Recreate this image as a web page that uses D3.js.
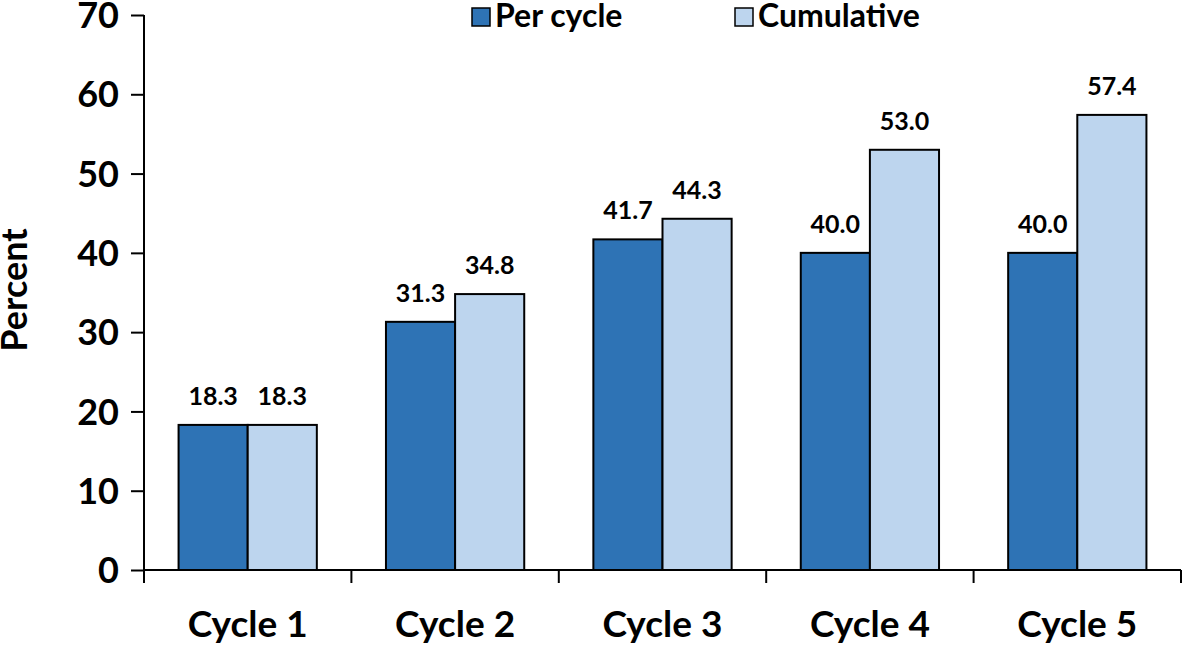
<!DOCTYPE html>
<html><head><meta charset="utf-8">
<script src="https://cdn.jsdelivr.net/npm/d3@7"></script>
<style>body{margin:0;background:#fff}svg{display:block}text{font-family:Lato,"Open Sans",sans-serif;font-weight:bold;fill:#000}</style>
</head><body><svg id="c" width="1182" height="645"></svg>
<script>
const categories = ["Cycle 1","Cycle 2","Cycle 3","Cycle 4","Cycle 5"];
const seriesNames = ["Per cycle","Cumulative"];
const perCycle = [18.3, 31.3, 41.7, 40.0, 40.0];
const cumulative = [18.3, 34.8, 44.3, 53.0, 57.4];
const yTicks = [0,10,20,30,40,50,60,70];
const colors = ["#2e73b5","#bdd5ee"];

const svg = d3.select("#c");
const x0 = 144, x1 = 1181, yTop = 15, yBot = 570;
const x = d3.scaleBand().domain(categories).range([x0,x1]).paddingInner(0).paddingOuter(0);
const xs = d3.scaleBand().domain(seriesNames).range([0,x.bandwidth()]).paddingOuter(0.5).paddingInner(0);
const y = d3.scaleLinear().domain([0,70]).range([yBot,yTop]);

const data = categories.map((c,i)=>({c, vals:[perCycle[i], cumulative[i]]}));

const g = svg.append("g");
data.forEach(d=>{
  d.vals.forEach((v,j)=>{
    const bx = x(d.c)+xs(seriesNames[j]);
    g.append("rect").attr("x",bx).attr("y",y(v)).attr("width",xs.bandwidth()).attr("height",y(0)-y(v))
      .attr("fill",colors[j]).attr("stroke","#000").attr("stroke-width",2);
    g.append("text").attr("x",bx+xs.bandwidth()/2).attr("y",y(v)-20).attr("text-anchor","middle")
      .attr("font-size",25).text(v.toFixed(1));
  });
});

// y axis
const ya = svg.append("g").attr("transform",`translate(${x0},0)`)
  .call(d3.axisLeft(y).tickValues(yTicks).tickSize(13).tickPadding(12).tickFormat(d3.format("d")));
ya.selectAll("path.domain").attr("d",`M0,${yTop}V${yBot}`).attr("stroke","#000").attr("stroke-width",2);
ya.selectAll(".tick line").attr("stroke","#000").attr("stroke-width",2);
ya.selectAll(".tick text").attr("font-size",36).attr("font-family","Lato").attr("font-weight","bold").attr("dy","0.35em");

// x axis
const xa = svg.append("g").attr("transform",`translate(0,${yBot})`);
xa.append("line").attr("x1",x0).attr("x2",x1).attr("stroke","#000").attr("stroke-width",2);
const bounds = categories.map(c=>x(c)).concat([x1]);
xa.selectAll("line.tk").data(bounds).enter().append("line").attr("class","tk")
  .attr("x1",d=>d).attr("x2",d=>d).attr("y1",0).attr("y2",13).attr("stroke","#000").attr("stroke-width",2);
xa.selectAll("text").data(categories).enter().append("text")
  .attr("x",d=>x(d)+x.bandwidth()/2).attr("y",67).attr("text-anchor","middle").attr("font-size",37).text(d=>d);

// y title
svg.append("text").attr("transform","translate(27,290) rotate(-90)").attr("text-anchor","middle").attr("font-size",36).text("Percent");

// legend
const legX = [472, 735];
seriesNames.forEach((s,i)=>{
  svg.append("rect").attr("x",legX[i]).attr("y",8).attr("width",18).attr("height",18)
    .attr("fill",colors[i]).attr("stroke","#000").attr("stroke-width",1.5);
  svg.append("text").attr("x",legX[i]+23).attr("y",27).attr("font-size",32).text(s);
});
</script></body></html>
